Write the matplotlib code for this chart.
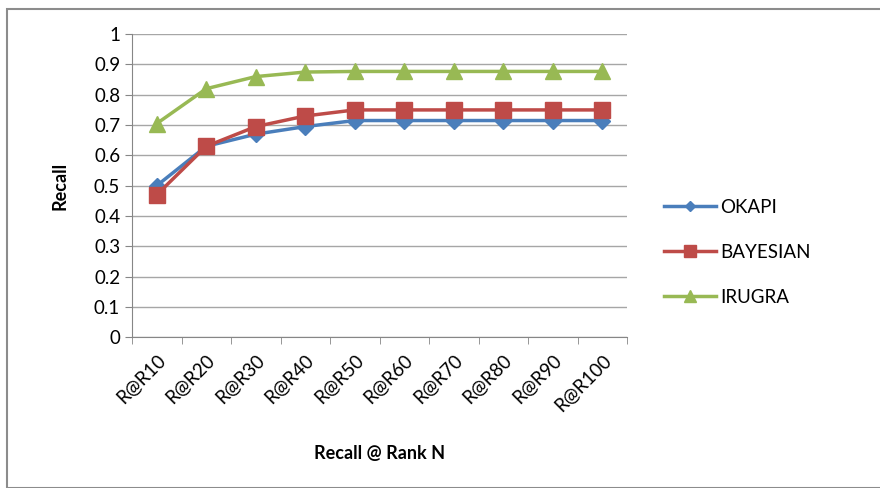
import matplotlib.pyplot as plt
from matplotlib.patches import Rectangle

plt.rcParams['font.family'] = ['Lato', 'DejaVu Sans']

ranks = ["R@R10", "R@R20", "R@R30", "R@R40", "R@R50",
         "R@R60", "R@R70", "R@R80", "R@R90", "R@R100"]
okapi = [0.50, 0.63, 0.67, 0.695, 0.715, 0.715, 0.715, 0.715, 0.715, 0.715]
bayesian = [0.47, 0.63, 0.695, 0.73, 0.75, 0.75, 0.75, 0.75, 0.75, 0.75]
irugra = [0.705, 0.82, 0.86, 0.875, 0.877, 0.877, 0.877, 0.877, 0.877, 0.877]

fig = plt.figure(figsize=(8.8, 4.88), dpi=100)
ax = fig.add_axes([0.15, 0.309, 0.5625, 0.621])

# outer chart frame
fig.patches.append(Rectangle((0.008, 0.0), 1.0, 0.982, transform=fig.transFigure,
                             fill=False, edgecolor="#8c8c8c", linewidth=1.5))

x = range(len(ranks))
ax.plot(x, okapi, color="#4a7ebb", marker="D", markersize=8, linewidth=2.5, label="OKAPI")
ax.plot(x, bayesian, color="#be4b48", marker="s", markersize=12, linewidth=2.5, label="BAYESIAN")
ax.plot(x, irugra, color="#98b954", marker="^", markersize=12, linewidth=2.5, label="IRUGRA")

ax.set_xlim(-0.5, len(ranks) - 0.5)
ax.set_ylim(0, 1)
ax.set_yticks([i / 10 for i in range(11)])
ax.set_yticklabels(["0", "0.1", "0.2", "0.3", "0.4", "0.5", "0.6", "0.7", "0.8", "0.9", "1"],
                   fontsize=13.5)
ax.grid(axis="y", color="#a6a6a6", linewidth=1)
ax.set_axisbelow(True)

ax.set_xticks(list(x))
ax.set_xticklabels(ranks, rotation=45, ha="right", rotation_mode="anchor", fontsize=13.5)
ax.set_xticks([i - 0.5 for i in range(len(ranks) + 1)], minor=True)
ax.tick_params(axis="x", which="major", length=0, pad=10)
ax.tick_params(axis="x", which="minor", length=5, color="#868686")
ax.tick_params(axis="y", length=5, color="#868686")

for side in ("top", "right"):
    ax.spines[side].set_visible(False)
for side in ("left", "bottom"):
    ax.spines[side].set_color("#868686")

ax.set_ylabel("Recall", fontsize=13, fontweight="bold", labelpad=18)
ax.set_xlabel("Recall @ Rank N", fontsize=13, fontweight="bold", labelpad=22)

leg = ax.legend(loc="center left", bbox_to_anchor=(1.04, 0.28), frameon=False,
                fontsize=13.5, handlelength=2.8, labelspacing=1.5, handletextpad=0.2,
                markerscale=0.7)

fig.savefig("out.png", dpi=100)
